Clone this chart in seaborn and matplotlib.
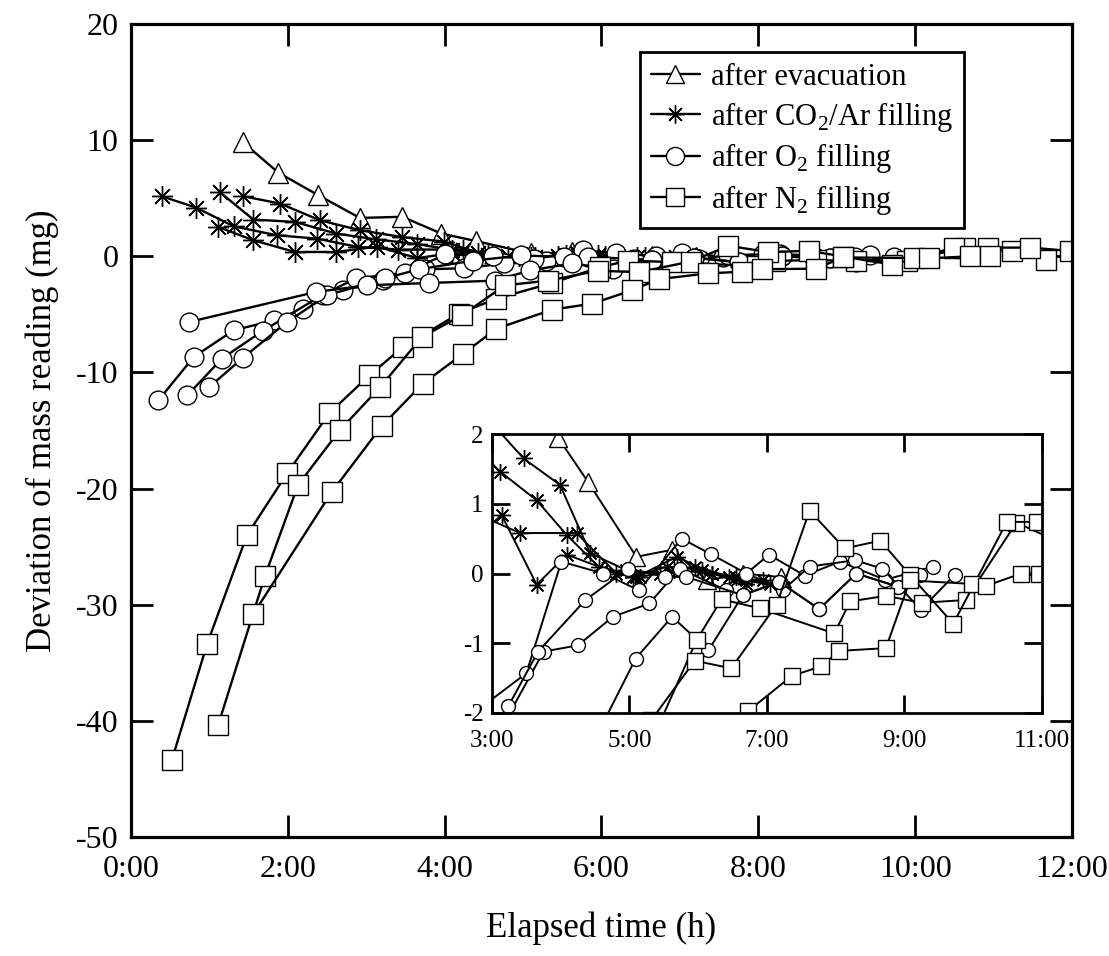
import numpy as np
import pandas as pd
import matplotlib
matplotlib.use("Agg")
import matplotlib.pyplot as plt
import seaborn as sns
from matplotlib.lines import Line2D
from matplotlib.ticker import FuncFormatter, MultipleLocator, FixedLocator

# ---- data (t in hours, deviation in mg) ----
evac_t = [1.43, 1.88, 2.39, 2.92, 3.46, 3.96, 4.40, 5.10, 5.62, 6.13, 6.65, 7.20]
evac_y = [9.8, 7.2, 5.25, 3.3, 3.4, 1.95, 1.31, 0.24, 0.34, -0.10, 0.0, -0.05]

co2_a_t = [0.39, 0.83, 1.31, 1.86, 2.37, 2.90, 3.41, 4.23, 4.81, 5.10, 5.69, 6.20, 6.70, 7.24]
co2_a_y = [5.17, 4.19, 2.58, 1.81, 1.52, 0.80, 0.58, 0.58, 0.0, -0.05, 0.24, 0.0, -0.10, -0.20]
co2_b_t = [1.13, 1.56, 2.09, 2.62, 3.12, 3.65, 4.09, 4.60, 5.05, 5.55, 6.05, 6.55, 7.05]
co2_b_y = [5.54, 3.16, 2.96, 1.95, 1.46, 1.05, 0.55, 0.05, -0.05, 0.10, 0.05, -0.05, -0.15]
co2_c_t = [1.43, 1.90, 2.41, 2.92, 3.46, 3.99, 4.43, 4.95, 5.45, 5.95, 6.45, 6.95]
co2_c_y = [5.17, 4.54, 3.10, 2.24, 1.65, 1.27, 0.29, 0.05, 0.0, 0.10, -0.05, -0.10]
co2_d_t = [1.11, 1.56, 2.09, 2.62, 3.14, 3.65, 4.09, 4.55, 5.15, 5.65, 6.20, 6.70]
co2_d_y = [2.53, 1.38, 0.37, 0.37, 0.84, -0.16, 0.27, 0.10, -0.05, 0.05, 0.0, -0.15]

o2_a_t = [0.35, 0.80, 1.31, 1.83, 2.20, 2.71, 3.22, 3.75, 4.25, 4.76, 5.29, 5.73, 6.41, 7.03, 7.55, 8.06, 8.72, 9.42]
o2_a_y = [-12.4, -8.67, -6.37, -5.51, -4.5, -2.93, -2.07, -1.12, -1.03, -0.62, -0.43, 0.07, -0.24, 0.27, -0.03, 0.17, -0.09, 0.10]
o2_b_t = [0.72, 1.16, 1.68, 2.45, 2.87, 3.50, 4.01, 4.62, 5.14, 5.76, 6.18, 6.70, 7.24, 7.62, 8.28, 8.68, 9.24, 9.73]
o2_b_y = [-11.97, -8.81, -6.43, -3.3, -1.90, -1.43, 0.17, 0.0, -0.24, 0.50, 0.28, 0.0, -0.23, 0.10, 0.19, 0.07, -0.52, -0.02]
o2_c_t = [1.00, 1.43, 1.99, 2.50, 3.24, 3.67, 4.36, 4.98, 5.52, 5.83, 6.65, 7.18, 7.76, 8.30, 8.91, 9.23]
o2_c_y = [-11.25, -8.73, -5.66, -3.36, -1.90, -1.12, -0.38, 0.07, -0.05, -0.05, -0.31, -0.12, -0.51, 0.0, -0.19, -0.02]
o2_d_t = [0.74, 2.36, 3.01, 3.80, 4.64, 5.09, 5.62, 6.15, 6.65, 7.18, 7.76, 8.30, 8.91]
o2_d_y = [-5.66, -3.07, -2.5, -2.3, -2.1, -1.22, -0.62, -1.10, -0.31, -0.12, -0.51, 0.0, -0.19]

n2_a_t = [0.52, 0.97, 1.48, 1.99, 2.53, 3.04, 3.47, 4.18, 4.66, 5.37, 5.98, 6.34, 6.90, 7.98, 8.21, 8.73, 9.25, 9.89, 10.63, 11.23, 11.67]
n2_a_y = [-43.4, -33.4, -24.0, -18.7, -13.5, -10.25, -7.8, -4.94, -3.65, -2.3, -0.95, -0.37, -0.5, -0.86, -0.40, -0.32, -0.42, -0.38, 0.73, 0.46, -0.3]
n2_b_t = [1.11, 1.71, 2.13, 2.66, 3.18, 3.71, 4.22, 4.77, 5.32, 5.95, 6.48, 7.14, 7.62, 8.13, 8.65, 9.08, 9.71, 10.49, 10.93, 11.46, 11.98]
n2_b_y = [-40.4, -27.5, -19.7, -15.0, -11.25, -6.95, -5.08, -2.5, -2.1, -1.25, -1.36, -0.45, 0.90, 0.36, 0.47, -0.02, -0.72, 0.74, 0.74, 0.75, 0.46]
n2_c_t = [1.56, 2.56, 3.20, 3.72, 4.24, 4.66, 5.37, 5.88, 6.39, 6.73, 7.36, 7.79, 8.05, 8.73, 9.08, 9.99, 10.18, 10.70, 10.96]
n2_c_y = [-30.8, -20.3, -14.6, -10.97, -8.38, -6.23, -4.6, -4.08, -2.93, -1.97, -1.47, -1.33, -1.11, -1.07, -0.10, -0.15, -0.18, 0.0, 0.0]

inset_ticks = [3, 5, 7, 9, 11]

labels = {
    "evac": "after evacuation",
    "co2": r"after CO$_\mathregular{2}$/Ar filling",
    "o2": r"after O$_\mathregular{2}$ filling",
    "n2": r"after N$_\mathregular{2}$ filling",
}
markers = {"evac": "^", "co2": (8, 2, 0), "o2": "o", "n2": "s"}

runs = [
    ("evac", evac_t, evac_y),
    ("co2", co2_a_t, co2_a_y), ("co2", co2_b_t, co2_b_y),
    ("co2", co2_c_t, co2_c_y), ("co2", co2_d_t, co2_d_y),
    ("o2", o2_a_t, o2_a_y), ("o2", o2_b_t, o2_b_y),
    ("o2", o2_c_t, o2_c_y), ("o2", o2_d_t, o2_d_y),
    ("n2", n2_a_t, n2_a_y), ("n2", n2_b_t, n2_b_y), ("n2", n2_c_t, n2_c_y),
]

frames = []
for i, (gas, t, y) in enumerate(runs):
    frames.append(pd.DataFrame({"t": t, "dev": y, "gas": gas, "run": i}))
df = pd.concat(frames, ignore_index=True)

sns.set_style("ticks")
plt.rcParams["font.family"] = ["Liberation Serif", "DejaVu Serif"]
plt.rcParams["mathtext.fontset"] = "custom"
plt.rcParams["mathtext.rm"] = "Liberation Serif"
plt.rcParams["axes.unicode_minus"] = False
for k in ["text.color", "axes.labelcolor", "xtick.color", "ytick.color", "axes.edgecolor"]:
    plt.rcParams[k] = "black"

fig = plt.figure(figsize=(11.09, 9.56), dpi=100)
ax = fig.add_axes([0.1181, 0.1245, 0.8485, 0.8504])
axin = fig.add_axes([0.4436, 0.2542, 0.4959, 0.2918])


def draw_runs(a, msize, lw):
    for run_id, sub in df.groupby("run", sort=True):
        gas = sub["gas"].iloc[0]
        sns.lineplot(data=sub, x="t", y="dev", ax=a, color="black", sort=False,
                     estimator=None, marker=markers[gas], markersize=msize[gas],
                     markerfacecolor="white", markeredgecolor="black",
                     markeredgewidth=1.0, linewidth=lw, legend=False)


draw_runs(ax, {"evac": 14, "co2": 15, "o2": 13.5, "n2": 14}, 1.7)
draw_runs(axin, {"evac": 12.5, "co2": 12, "o2": 10, "n2": 11}, 1.4)

hours = FuncFormatter(lambda v, p: f"{int(round(v))}:00")

ax.set_xlim(0, 12)
ax.set_ylim(-50, 20)
ax.xaxis.set_major_locator(MultipleLocator(2))
ax.yaxis.set_major_locator(MultipleLocator(10))
ax.xaxis.set_major_formatter(hours)
ax.tick_params(direction="in", length=16, width=2, labelsize=23, top=True, right=True)
ax.tick_params(axis="x", pad=13)
ax.tick_params(axis="y", pad=9)
ax.set_xlabel("Elapsed time (h)", fontsize=25, labelpad=20)
ax.set_ylabel("Deviation of mass reading (mg)", fontsize=25, labelpad=12)
for s in ax.spines.values():
    s.set_linewidth(2.3)

axin.set_xlim(3, 11)
axin.set_ylim(-2, 2)
axin.xaxis.set_major_locator(FixedLocator(inset_ticks))
axin.yaxis.set_major_locator(MultipleLocator(1))
axin.xaxis.set_major_formatter(hours)
axin.tick_params(direction="in", length=13, width=2, labelsize=18, top=True, right=True)
axin.tick_params(axis="x", pad=12)
axin.tick_params(axis="y", pad=6)
axin.set_xlabel("")
axin.set_ylabel("")
axin.set_facecolor("white")
for s in axin.spines.values():
    s.set_linewidth(2)

handles = [Line2D([], [], color="black", lw=1.7, marker=markers[g], markersize=13,
                  markerfacecolor="white", markeredgecolor="black", markeredgewidth=1.0,
                  label=labels[g]) for g in ["evac", "co2", "o2", "n2"]]
leg = ax.legend(handles=handles, loc="upper right", bbox_to_anchor=(0.885, 0.9656),
                borderaxespad=0, fontsize=22, frameon=True, fancybox=False,
                handlelength=1.6, handletextpad=0.36, borderpad=0.36, labelspacing=0.25)
leg.get_frame().set_edgecolor("black")
leg.get_frame().set_linewidth(2)
leg.get_frame().set_alpha(1)

fig.savefig("out.png", dpi=100)
